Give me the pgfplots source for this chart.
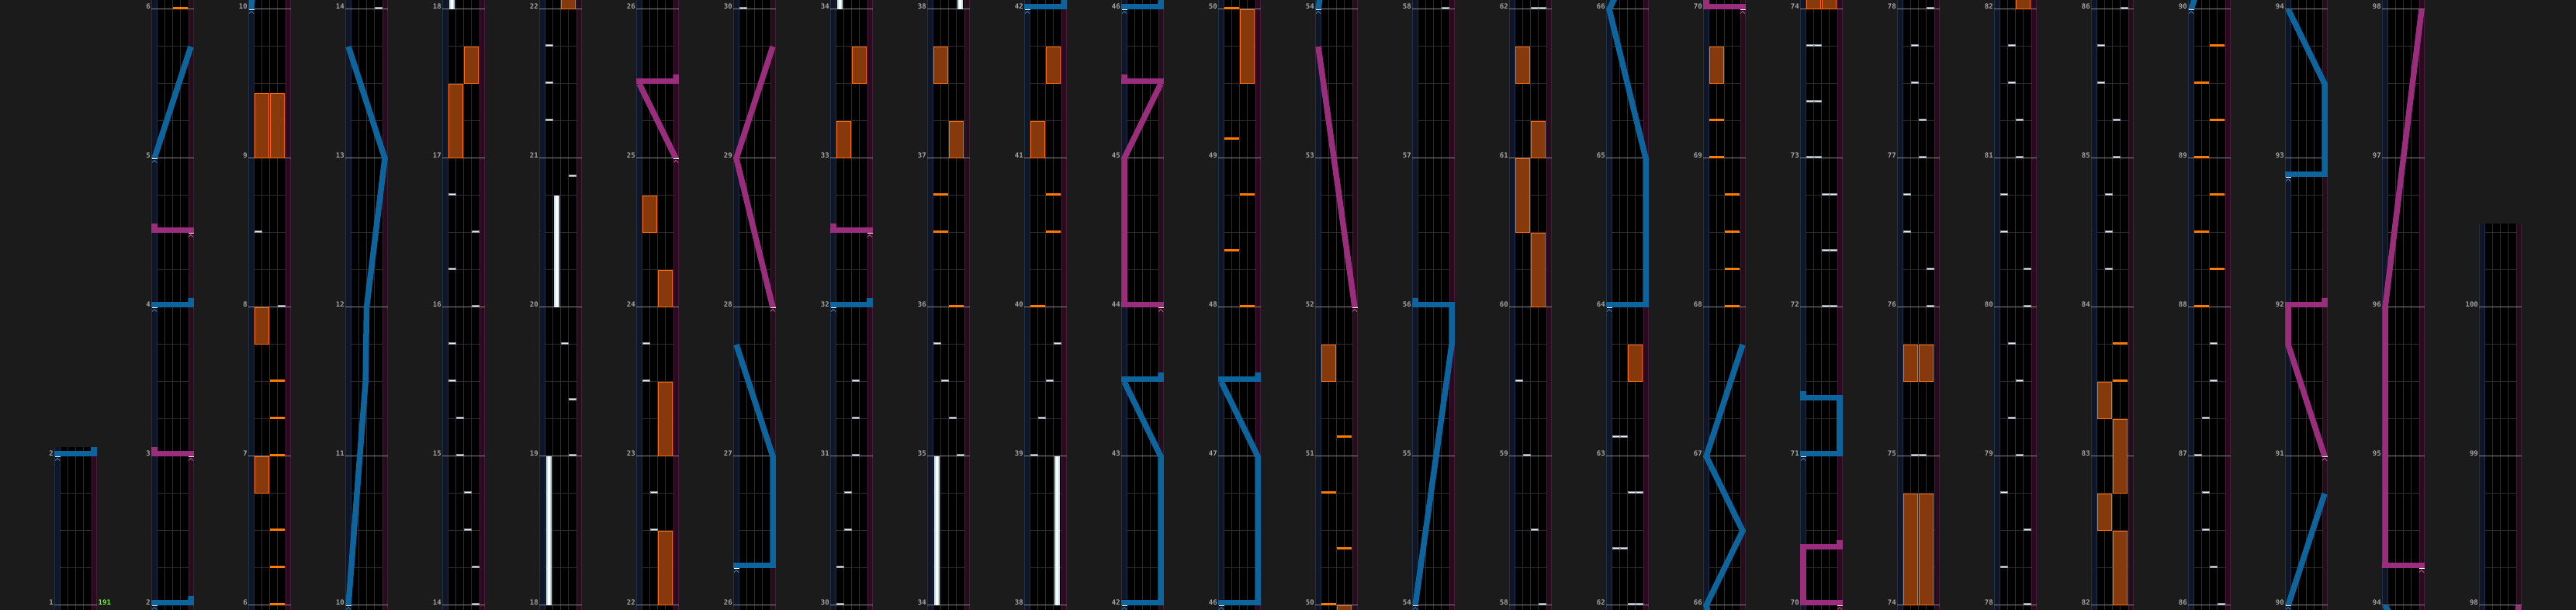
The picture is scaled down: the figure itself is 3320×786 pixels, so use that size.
\documentclass[border=0pt]{standalone}
\usepackage{fontspec}
\usepackage{pgfplots}
\usepackage{pgfplotstable}
\pgfplotsset{compat=1.18}
\newfontfamily\lblfont{DejaVu Sans Mono}

\definecolor{bgc}{HTML}{1B1B1B}
\definecolor{lanelc}{HTML}{0E1628}
\definecolor{laneledge}{HTML}{1F3149}
\definecolor{lanerc}{HTML}{280C1E}
\definecolor{laneredge}{HTML}{4A1A3A}
\definecolor{sepc}{HTML}{2C2C2C}
\definecolor{beatc}{HTML}{2C2C2C}
\definecolor{measc}{HTML}{858585}
\definecolor{lblc}{HTML}{A3A3A3}
\definecolor{chipw}{HTML}{EEF2F6}
\definecolor{chipedge}{HTML}{8F99A3}
\definecolor{fxor}{HTML}{FF7A00}
\definecolor{fxedge}{HTML}{FF6A0A}
\definecolor{fxfill}{HTML}{863A0C}
\definecolor{btholdc}{HTML}{BFE0EC}
\definecolor{lblue}{HTML}{0E659E}
\definecolor{lpink}{HTML}{9A2D7C}
\definecolor{chevB}{HTML}{3A7FB5}
\definecolor{chevP}{HTML}{C0508F}
\definecolor{bpmc}{HTML}{6CFF1A}

\pgfdeclareplotmark{btchip}{\pgfpathrectangle{\pgfpoint{-4.5pt}{0.3pt}}{\pgfpoint{9pt}{2.7pt}}\pgfusepathqfillstroke}
\pgfdeclareplotmark{fxchip}{\pgfpathrectangle{\pgfpoint{-9.5pt}{0pt}}{\pgfpoint{19pt}{3pt}}\pgfusepathqfill}
\pgfdeclareplotmark{chev}{\pgfpathmoveto{\pgfpoint{-3pt}{-5.5pt}}\pgfpathlineto{\pgfpoint{0pt}{-2.5pt}}\pgfpathlineto{\pgfpoint{3pt}{-5.5pt}}\pgfusepathqstroke}
\pgfdeclareplotmark{sdash}{\pgfpathrectangle{\pgfpoint{-3.5pt}{-1.2pt}}{\pgfpoint{7pt}{1.2pt}}\pgfusepathqfill}

% BT chips: measure, lane (1..4)
\pgfplotstableread{
t lane
8 4
8.5 1
14 4
14.25 4
14.5 3
14.75 3
15 2
15.25 2
15.5 1
15.75 1
16 4
16.25 1
16.5 4
16.75 1
19 4
19.375 4
19.75 3
20.875 4
21.25 1
21.5 1
21.75 1
22.5 2
22.75 2
23.5 1
23.75 1
30 1
30.25 1
30.5 2
30.75 2
31 3
31.25 3
31.5 3
35 4
35.25 3
35.5 2
35.75 1
39 1
39.25 2
39.5 3
39.75 4
58 4
58.5 3
59 2
59.5 1
62 3
62 4
62.375 1
62.375 2
62.75 3
62.75 4
63.125 1
63.125 2
72 3
72 4
72.375 3
72.375 4
72.75 3
72.75 4
73 1
73 2
73.375 1
73.375 2
73.75 1
73.75 2
75 2
75 3
76 4
76.25 4
76.5 1
76.75 1
77 3
77.25 3
77.5 2
77.75 2
78 4
78.25 1
78.5 4
78.75 1
79 3
79.25 2
79.5 3
79.75 2
80 4
80.25 4
80.5 1
80.75 1
81 3
81.25 3
81.5 2
81.75 2
84.25 2
84.5 2
84.75 2
85 3
85.25 3
85.5 1
85.75 1
86 4
86.25 3
86.5 2
86.75 2
87 1
87.25 2
87.5 3
87.75 3
}\btchips

% FX chips: measure, side (1 = L, 2 = R)
\pgfplotstableread{
t side
6 2
6.25 2
6.5 2
7 2
7.25 2
7.5 2
36 2
36.5 1
36.75 1
40 1
40.5 2
40.75 2
48 2
48.375 1
48.75 2
49.125 1
50 1
50.375 2
50.75 1
51.125 2
68 2
68.25 2
68.5 2
68.75 2
69 1
69.25 1
83.5 2
83.75 2
88 1
88.25 2
88.5 1
88.75 2
89 1
89.25 2
89.5 1
89.75 2
}\fxchips

% FX holds: start, length, side
\pgfplotstableread{
t len side
6.75 0.25 1
7.75 0.25 1
9 0.4375 1
9 0.4375 2
17 0.5 1
17.5 0.25 2
22 0.5 2
23 0.5 2
24 0.25 2
24.5 0.25 1
33 0.25 1
33.5 0.25 2
37 0.25 2
37.5 0.25 1
41 0.25 1
41.5 0.25 2
49.5 0.5 2
51.5 0.25 1
60 0.5 2
60.5 0.5 1
61 0.25 2
61.5 0.25 1
63.5 0.25 2
69.5 0.25 1
74 0.75 1
74 0.75 2
75.5 0.25 1
75.5 0.25 2
82 0.5 2
82.5 0.25 1
82.75 0.5 2
83.25 0.25 1
}\fxholds

% BT holds: start, length, lane
\pgfplotstableread{
t len lane
18 1 1
20 0.75 2
34 1 1
38 1 4
}\btholds

% laser slams: measure, left end (laser position)
\pgfplotstableread{
t p
2 0
4 0
26.25 0
32 0
42 0
43.5 0
46 0
47.5 0
56 0
64 0
71 0
71.375 0
92.875 0
}\slamsB
\pgfplotstableread{
t p
3 0
4.5 0
25.5 0
32.5 0
44 0
45.5 0
70 0
70.375 0
92 0
94.25 0
}\slamsP

\pgfplotsset{
  laser/.style={line width=7.5pt, line join=miter, unbounded coords=jump, mark=none},
  chartcol/.style={
    scale only axis, width=55pt, anchor=south west,
    xmin=-0.085106, xmax=1.085106,
    axis line style={draw=none},
    xtick=\empty, ytick distance=1, major tick length=0pt, tick style={draw=none},
    ymajorgrids, major grid style={draw=measc, line width=1pt},
    yticklabel={\pgfmathprintnumber[assume math mode=true,int detect]{\tick}},
    yticklabel style={font=\lblfont\bfseries\fontsize{9}{10}\selectfont, text=lblc, anchor=base east, inner sep=1pt},
    clip marker paths=true,
    axis background/.style={fill=black, path picture={
      \fill[lanelc] (path picture bounding box.south west) rectangle ([xshift=7.5pt]path picture bounding box.north west);
      \fill[lanerc] ([xshift=-7.5pt]path picture bounding box.south east) rectangle (path picture bounding box.north east);
      \draw[laneledge, line width=1pt] ([xshift=0.5pt]path picture bounding box.south west) -- ([xshift=0.5pt]path picture bounding box.north west);
      \draw[laneledge, line width=1pt] ([xshift=7pt]path picture bounding box.south west) -- ([xshift=7pt]path picture bounding box.north west);
      \draw[laneredge, line width=1pt] ([xshift=-0.5pt]path picture bounding box.south east) -- ([xshift=-0.5pt]path picture bounding box.north east);
      \draw[laneredge, line width=1pt] ([xshift=-7pt]path picture bounding box.south east) -- ([xshift=-7pt]path picture bounding box.north east);
      \foreach \xx in {17.5,27.5,37.5} {\draw[sepc, line width=1pt] ([xshift=\xx pt]path picture bounding box.south west) -- ([xshift=\xx pt]path picture bounding box.north west);}
      \foreach \k in {0,...,17} {\draw[beatc, line width=1pt] ([xshift=7.5pt,yshift=6pt+48pt*\k]path picture bounding box.south west) -- ++(40pt,0pt);}
    }},
  },
}

\newcommand{\chartbody}{%
\addplot[draw=fxedge, line width=19pt, quiver={u=0,v=\thisrow{len}}] table[x expr=(20*\thisrow{side}-6.5)/47, y=t]{\fxholds};
\addplot[draw=fxfill, line width=17pt, quiver={u=0,v=\thisrow{len}-0.0104}] table[x expr=(20*\thisrow{side}-6.5)/47, y expr=\thisrow{t}+0.0052]{\fxholds};
\addplot[draw=btholdc, line width=7pt, quiver={u=0,v=\thisrow{len}}] table[x expr=(10*\thisrow{lane}-1.5)/47, y=t]{\btholds};
\addplot[draw=white, line width=3pt, quiver={u=0,v=\thisrow{len}}] table[x expr=(10*\thisrow{lane}-1.5)/47, y=t]{\btholds};
\addplot[only marks, mark=fxchip, mark options={fill=fxor, draw=none}] table[x expr=(20*\thisrow{side}-6.5)/47, y=t]{\fxchips};
\addplot[only marks, mark=btchip, mark options={fill=chipw, draw=chipedge, line width=0.6pt}] table[x expr=(10*\thisrow{lane}-1.5)/47, y=t]{\btchips};
\addplot[laser, draw=lblue] coordinates {
(1,2) (1,2.0625) (nan,nan)
(1,4) (1,4.0625) (nan,nan)
(0,5) (1,5.75) (nan,nan)
(0,10) (0.47,11.5) (0.5,12) (1,13) (0,13.75) (nan,nan)
(1,26.25) (1,27) (0,27.75) (nan,nan)
(1,32) (1,32.0625) (nan,nan)
(1,42) (1,43) (0,43.5) (nan,nan)
(1,43.5) (1,43.5625) (nan,nan)
(1,46) (1,47) (0,47.5) (nan,nan)
(1,47.5) (1,47.5625) (nan,nan)
(0,54) (1,55.75) (1,56) (nan,nan)
(0,56) (0,56.0625) (nan,nan)
(1,64) (1,65) (0,66) (1,66.5) (0,67) (1,67.75) (nan,nan)
(1,71) (1,71.375) (nan,nan)
(0,71.375) (0,71.4375) (nan,nan)
(0,90) (1,90.75) (nan,nan)
(1,92.875) (1,93.5) (0,94)
};
\addplot[laser, draw=lpink] coordinates {
(0,3) (0,3.0625) (nan,nan)
(0,4.5) (0,4.5625) (nan,nan)
(1,25) (0,25.5) (nan,nan)
(1,25.5) (1,25.5625) (nan,nan)
(1,28) (0,29) (1,29.75) (nan,nan)
(0,32.5) (0,32.5625) (nan,nan)
(0,44) (0,45) (1,45.5) (nan,nan)
(0,45.5) (0,45.5625) (nan,nan)
(1,52) (0,53.75) (nan,nan)
(0,70) (0,70.375) (nan,nan)
(1,70.375) (1,70.4375) (nan,nan)
(1,91) (0,91.75) (0,92) (nan,nan)
(1,92) (1,92.0625) (nan,nan)
(0,94.25) (0,96) (1,98)
};
\addplot[draw=lblue, line width=7pt, quiver={u=1.170213,v=0}] table[x expr=\thisrow{p}-0.085106, y expr=\thisrow{t}+0.0182]{\slamsB};
\addplot[draw=lpink, line width=7pt, quiver={u=1.170213,v=0}] table[x expr=\thisrow{p}-0.085106, y expr=\thisrow{t}+0.0182]{\slamsP};
\addplot[only marks, mark=chev, mark options={draw=chevB, line width=0.8pt}] coordinates {(0,2) (0,4) (0,5) (0,10) (0,26.25) (0,32) (0,42) (0,46) (0,54) (0,64) (0,71) (0,90) (0,92.875)};
\addplot[only marks, mark=chev, mark options={draw=chevP, line width=0.8pt}] coordinates {(1,3) (1,4.5) (1,25) (1,28) (1,32.5) (1,44) (1,52) (1,70) (1,91) (1,94.25)};
\addplot[only marks, mark=sdash, mark options={fill=white, draw=none}] coordinates {(0,2) (0,4) (0,5) (0,10) (0,26.25) (0,32) (0,42) (0,46) (0,54) (0,64) (0,71) (0,90) (0,92.875) (1,3) (1,4.5) (1,25) (1,28) (1,32.5) (1,44) (1,52) (1,70) (1,91) (1,94.25)};
}

% #1 left edge, #2 height, #3 ymin, #4 ymax, #5/#6 clamp range for off-column data
\newcommand{\chartcol}[6]{%
\begin{axis}[chartcol, at={(#1pt,0pt)}, height=#2pt, ymin=#3, ymax=#4, restrict y to domain*=#5:#6]
\chartbody
\end{axis}}

\begin{document}
\begin{tikzpicture}
\path[use as bounding box] (0,0) rectangle (3320pt,786pt);
\fill[bgc] (0,0) rectangle (3320pt,786pt);
\begin{axis}[chartcol, at={(70pt,0pt)}, height=210pt, ymin=0.96875, ymax=2.0625, restrict y to domain*=-1:4,
  extra description/.code={\node[anchor=base west, inner sep=0pt, text=bpmc, font=\lblfont\bfseries\fontsize{9}{10}\selectfont] at ([xshift=1.5pt]rel axis cs:1,0.028571) {191};}]
\chartbody
\end{axis}
\chartcol{195}{786}{1.96875}{6.0625}{0}{8}
\chartcol{320}{786}{5.96875}{10.0625}{4}{12}
\chartcol{445}{786}{9.96875}{14.0625}{8}{16}
\chartcol{570}{786}{13.96875}{18.0625}{12}{20}
\chartcol{695}{786}{17.96875}{22.0625}{16}{24}
\chartcol{820}{786}{21.96875}{26.0625}{20}{28}
\chartcol{945}{786}{25.96875}{30.0625}{24}{32}
\chartcol{1070}{786}{29.96875}{34.0625}{28}{36}
\chartcol{1195}{786}{33.96875}{38.0625}{32}{40}
\chartcol{1320}{786}{37.96875}{42.0625}{36}{44}
\chartcol{1445}{786}{41.96875}{46.0625}{40}{48}
\chartcol{1570}{786}{45.96875}{50.0625}{44}{52}
\chartcol{1695}{786}{49.96875}{54.0625}{48}{56}
\chartcol{1820}{786}{53.96875}{58.0625}{52}{60}
\chartcol{1945}{786}{57.96875}{62.0625}{56}{64}
\chartcol{2070}{786}{61.96875}{66.0625}{60}{68}
\chartcol{2195}{786}{65.96875}{70.0625}{64}{72}
\chartcol{2320}{786}{69.96875}{74.0625}{68}{76}
\chartcol{2445}{786}{73.96875}{78.0625}{72}{80}
\chartcol{2570}{786}{77.96875}{82.0625}{76}{84}
\chartcol{2695}{786}{81.96875}{86.0625}{80}{88}
\chartcol{2820}{786}{85.96875}{90.0625}{84}{92}
\chartcol{2945}{786}{89.96875}{94.0625}{88}{96}
\chartcol{3070}{786}{93.96875}{98.0625}{92}{100}
\chartcol{3195}{498}{97.96875}{100.5625}{96}{102}
\end{tikzpicture}
\end{document}
